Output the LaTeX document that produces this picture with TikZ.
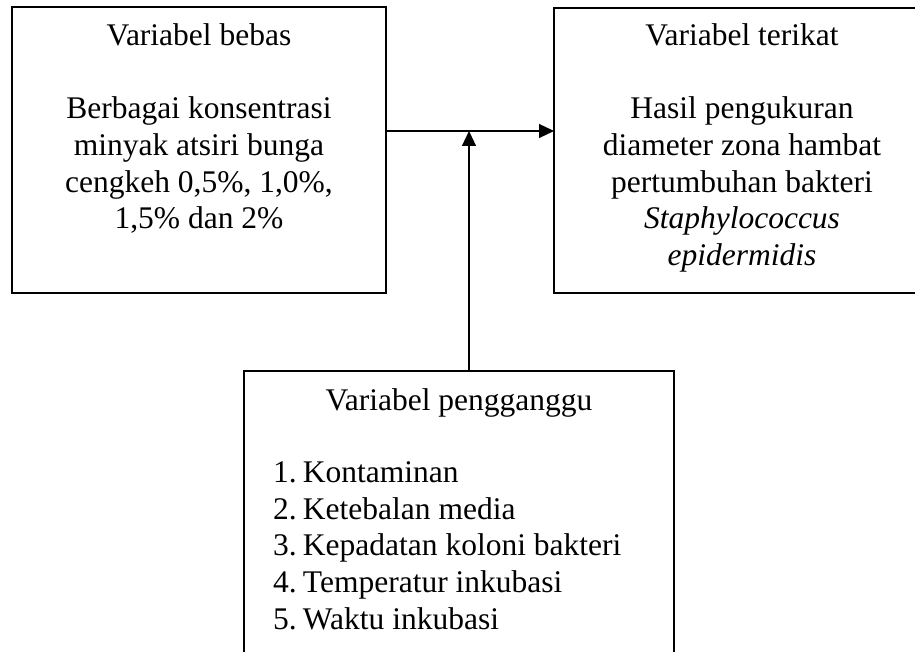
\documentclass[tikz,border=0pt]{standalone}
\usepackage{fontspec}
\setmainfont{Liberation Serif}
\usetikzlibrary{arrows.meta}
\begin{document}
\begin{tikzpicture}[x=1pt,y=-1pt,
  box/.style={draw,line width=1.2pt,inner sep=0pt,outer sep=0pt,anchor=north west},
  txt/.style={inner sep=0pt,outer sep=0pt,font=\fontsize{31.5}{36.7}\selectfont},
  arr/.style={line width=1.2pt,-{Triangle[length=15pt,width=14pt]}}]
\useasboundingbox (0,0) rectangle (915,652);
\clip (0,0) rectangle (915,652);
\node[box,minimum width=374pt,minimum height=286pt] (bebas) at (12,7) {};
\node[box,minimum width=390pt,minimum height=285pt] (terikat) at (554,8) {};
\node[box,minimum width=430pt,minimum height=320pt] (ganggu) at (244,371) {};
\node[txt,align=center,anchor=north] (tbebas) at (199,23.5) {Variabel bebas\\[36.7pt]Berbagai konsentrasi\\minyak atsiri bunga\\cengkeh 0,5\%, 1,0\%,\\1,5\% dan 2\%};
\node[txt,align=center,anchor=north] (tterikat) at (742,23.5) {Variabel terikat\\[36.7pt]Hasil pengukuran\\diameter zona hambat\\pertumbuhan bakteri\\\textit{Staphylococcus}\\\textit{epidermidis}};
\node[txt,anchor=north] (tganggu) at (459,388.5) {Variabel pengganggu};
\node[txt,align=left,anchor=north west] (tlist) at (273,461.7) {\makebox[30pt][l]{1.}Kontaminan\\\makebox[30pt][l]{2.}Ketebalan media\\\makebox[30pt][l]{3.}Kepadatan koloni bakteri\\\makebox[30pt][l]{4.}Temperatur inkubasi\\\makebox[30pt][l]{5.}Waktu inkubasi};
\coordinate (j) at (469,131);
\draw[arr] (bebas.east |- j) -- (terikat.west |- j);
\draw[arr] (j |- ganggu.north) -- (j);
\end{tikzpicture}
\end{document}
